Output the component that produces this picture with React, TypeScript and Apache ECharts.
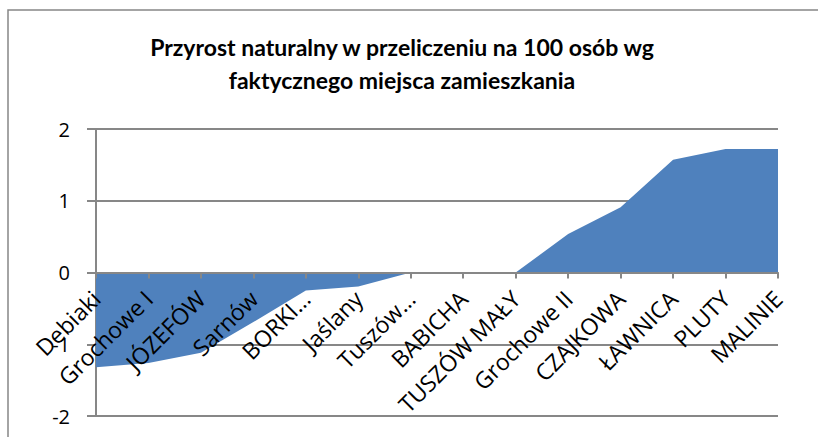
import React, { useEffect, useRef } from "react";
import * as echarts from "echarts";

const titleText = "Przyrost naturalny w przeliczeniu na 100 osób wg\nfaktycznego miejsca zamieszkania";

const categories = [
  "Debiaki",
  "Grochowe I",
  "JÓZEFÓW",
  "Sarnów",
  "BORKI…",
  "Jaślany",
  "Tuszów…",
  "BABICHA",
  "TUSZÓW MAŁY",
  "Grochowe II",
  "CZAJKOWA",
  "ŁAWNICA",
  "PLUTY",
  "MALINIE",
];

const values = [-1.32, -1.26, -1.12, -0.69, -0.25, -0.195, 0, 0, 0, 0.535, 0.91, 1.57, 1.72, 1.72];

const yMin = -2;
const yMax = 2;
const yInterval = 1;

export default function App() {
  const ref = useRef<HTMLDivElement>(null);

  useEffect(() => {
    if (!ref.current) return;
    const chart = echarts.init(ref.current, null, { renderer: "svg" });
    const gray = "#878787";
    const gridTop = 129;
    const gridBottom = 21;
    const plotH = 437 - gridTop - gridBottom;
    const zeroOffset = -plotH * (0 - yMin) / (yMax - yMin);
    chart.setOption({
      animation: false,
      backgroundColor: "#ffffff",
      title: {
        text: titleText,
        left: 397,
        top: 25,
        textAlign: "center",
        textStyle: {
          fontFamily: "Lato",
          fontWeight: "bold",
          fontSize: 23,
          lineHeight: 33,
          color: "#000",
        },
      },
      graphic: [
        {
          type: "polyline",
          shape: { points: [[8, 437], [8, 10], [818, 10]] },
          style: { stroke: gray, lineWidth: 1.5, fill: "none" },
          z: 10,
        },
      ],
      grid: {
        left: 96,
        right: 40,
        top: gridTop,
        bottom: gridBottom,
        containLabel: false,
        outerBoundsMode: "none",
      },
      xAxis: {
        type: "category",
        data: categories,
        boundaryGap: false,
        position: "bottom",
        offset: zeroOffset,
        axisLine: { onZero: false, lineStyle: { color: gray, width: 2 } },
        axisTick: { show: true, length: 6, inside: false, lineStyle: { color: gray, width: 2 } },
        axisLabel: {
          rotate: 45,
          interval: 0,
          margin: 22,
          fontFamily: "Open Sans",
          fontSize: 23,
          color: "#000",
        },
        splitLine: { show: false },
        z: 5,
      },
      yAxis: {
        type: "value",
        min: yMin,
        max: yMax,
        interval: yInterval,
        axisLine: { show: true, lineStyle: { color: gray, width: 2 } },
        axisTick: { show: true, length: 9, lineStyle: { color: gray, width: 2 } },
        axisLabel: {
          margin: 26,
          fontFamily: "Open Sans",
          fontSize: 20,
          color: "#000",
        },
        splitLine: { show: true, lineStyle: { color: gray, width: 2 } },
      },
      series: [
        {
          type: "line",
          data: values,
          showSymbol: false,
          symbol: "none",
          lineStyle: { width: 0, color: "#4F81BD" },
          areaStyle: { color: "#4F81BD", opacity: 1, origin: 0 },
          z: 1,
        },
      ],
    });
    return () => chart.dispose();
  }, []);

  return (
    <div
      ref={ref}
      style={{ position: "fixed", left: 0, top: 0, width: 818, height: 437 }}
    />
  );
}
